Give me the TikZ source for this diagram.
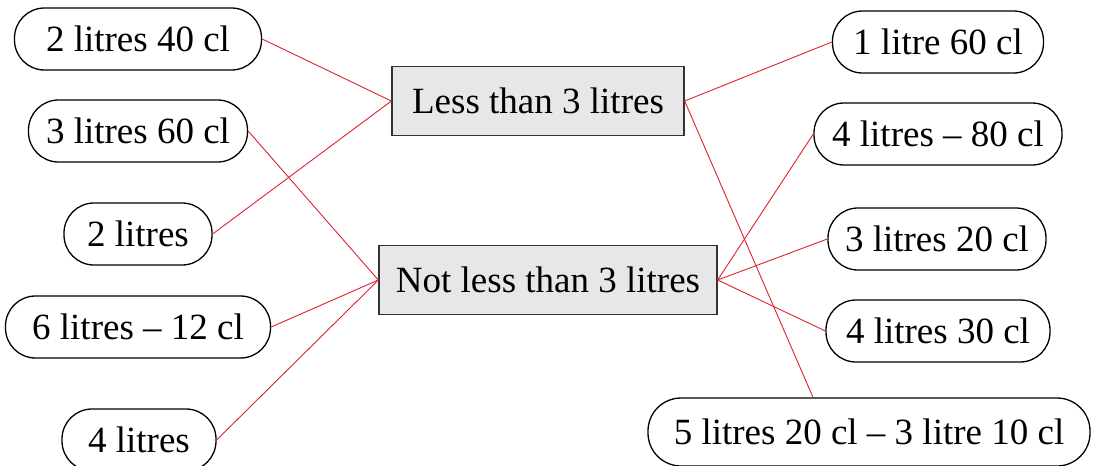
\documentclass[tikz,border=0pt]{standalone}
\usepackage{fontspec}
\setmainfont{Liberation Serif}
\usepackage{xcolor}
\usetikzlibrary{positioning}
\definecolor{linkred}{RGB}{220,35,45}
\definecolor{boxgray}{RGB}{230,231,232}

\tikzset{
  pill/.style={draw,line width=1.3pt,rounded corners=30pt,minimum height=62pt,
    inner sep=0pt,font=\fontsize{37}{40}\selectfont},
  catbox/.style={draw=black!80,fill=boxgray,line width=1.3pt,minimum height=69pt,
    inner sep=0pt,font=\fontsize{37}{40}\selectfont},
  link/.style={linkred,line width=0.9pt}
}

\begin{document}
\begin{tikzpicture}[x=1pt,y=-1pt]
  \useasboundingbox (0,0) rectangle (1093,466);
  % the two categories
  \node[catbox,minimum width=292pt] (lt) at (538,101) {Less than 3 litres};
  \node[catbox,minimum width=338pt] (nlt) at (548,280) {Not less than 3 litres};
  % amounts on the left
  \node[pill,minimum width=247pt] (s1) at (138,39) {2 litres 40 cl};
  \node[pill,minimum width=219pt] (s2) at (138,131) {3 litres 60 cl};
  \node[pill,minimum width=148pt] (s3) at (138,234) {2 litres};
  \node[pill,minimum width=265pt] (s4) at (138,327) {6 litres -- 12 cl};
  \node[pill,minimum width=154pt] (s5) at (139,440) {4 litres};
  % amounts on the right
  \node[pill,minimum width=211pt] (t1) at (938,42) {1 litre 60 cl};
  \node[pill,minimum width=248pt] (t2) at (938,134) {4 litres -- 80 cl};
  \node[pill,minimum width=218pt] (t3) at (937,239) {3 litres 20 cl};
  \node[pill,minimum width=224pt] (t4) at (938,331) {4 litres 30 cl};
  \node[pill,minimum width=442pt,minimum height=68pt,rounded corners=33pt] (t5) at (869,432) {5 litres 20 cl -- 3 litre 10 cl};
  % links
  \draw[link] (s1.east) -- (lt.west);
  \draw[link] (s3.east) -- (lt.west);
  \draw[link] (s2.east) -- (nlt.west);
  \draw[link] (s4.east) -- (nlt.west);
  \draw[link] (s5.east) -- (nlt.west);
  \draw[link] (lt.east) -- (t1.west);
  \draw[link] (lt.east) -- ([xshift=-56pt]t5.north);
  \draw[link] (nlt.east) -- (t2.west);
  \draw[link] (nlt.east) -- (t3.west);
  \draw[link] (nlt.east) -- (t4.west);
\end{tikzpicture}
\end{document}
